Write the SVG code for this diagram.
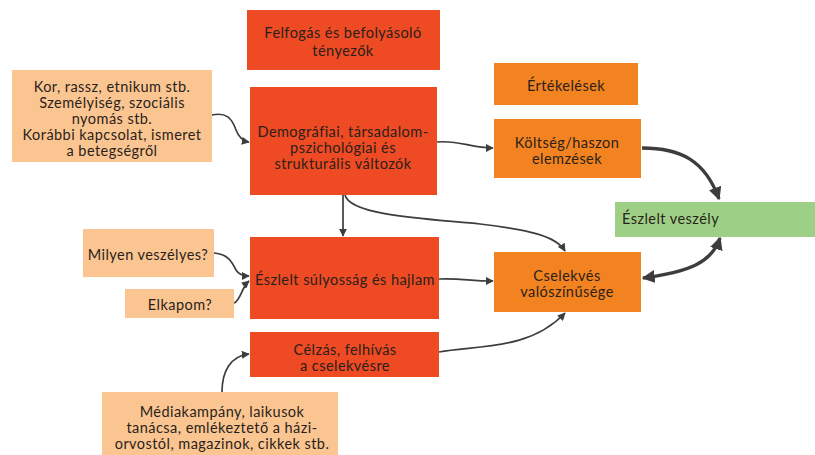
<svg xmlns="http://www.w3.org/2000/svg" width="815" height="455" viewBox="0 0 815 455">
<defs>
<style>
.red{fill:#ee4a23}
.org{fill:#f28320}
.peach{fill:#fbc592}
.grn{fill:#9dd086}
text{font-family:Lato,"Noto Sans",sans-serif;font-size:14.5px;letter-spacing:0.45px;fill:#2a1f1a;text-anchor:middle}
.c{fill:none;stroke:#3d3d3d;stroke-width:1.7}
.t{fill:none;stroke:#3d3d3d;stroke-width:3.4}
</style>
<marker id="a" viewBox="0 0 10 10" refX="9" refY="5" markerWidth="8" markerHeight="8" markerUnits="userSpaceOnUse" orient="auto"><path d="M0,0L10,5L0,10Z" fill="#3d3d3d"/></marker>
<marker id="ab" viewBox="0 0 10 10" refX="9" refY="5" markerWidth="13" markerHeight="13" markerUnits="userSpaceOnUse" orient="auto-start-reverse"><path d="M0,0L10,5L0,10Z" fill="#3d3d3d"/></marker>
</defs>
<rect width="815" height="455" fill="#fff"/>
<g id="connectors">
<path class="c" d="M212,115 C226,112 232,118 236,130 C239,138 243,141 249,142" marker-end="url(#a)"/>
<path class="c" d="M437,142 C460,140 470,148 493,148" marker-end="url(#a)"/>
<path class="c" d="M343,195 L343,236" marker-end="url(#a)"/>
<path class="c" d="M345,195 C350,216 430,219 480,224 C530,230 556,236 565,251" marker-end="url(#a)"/>
<path class="c" d="M439,279 C460,278 470,281 493,281" marker-end="url(#a)"/>
<path class="c" d="M439,352 C480,345 530,350 565,313" marker-end="url(#a)"/>
<path class="c" d="M214,253 C228,254 232,262 236,270 C239,275 244,276 249,276" marker-end="url(#a)"/>
<path class="c" d="M234,303 C241,300 241,288 249,281" marker-end="url(#a)"/>
<path class="c" d="M222,392 C222,372 230,356 249,354" marker-end="url(#a)"/>
<path class="t" d="M642,148 C680,148 705,160 719,199" marker-end="url(#ab)"/>
<path class="t" d="M643,278 C690,272 712,262 720,238" marker-start="url(#ab)" marker-end="url(#ab)"/>
</g>
<g id="felfogas"><rect class="red" x="247" y="10" width="193" height="60"/><text x="343" y="38">Felfogás és befolyásoló</text><text x="343" y="56">tényezők</text></g>
<g id="kor"><rect class="peach" x="12" y="70" width="200" height="92"/><text x="112" y="92">Kor, rassz, etnikum stb.</text><text x="112" y="108">Személyiség, szociális</text><text x="112" y="124">nyomás stb.</text><text x="112" y="140">Korábbi kapcsolat, ismeret</text><text x="112" y="156">a betegségről</text></g>
<g id="demografiai"><rect class="red" x="250" y="87" width="187" height="108"/><text x="343" y="137">Demográfiai, társadalom-</text><text x="343" y="153">pszichológiai és</text><text x="343" y="169">strukturális változók</text></g>
<g id="ertekelesek"><rect class="org" x="494" y="63" width="144" height="42"/><text x="566" y="91">Értékelések</text></g>
<g id="koltseg"><rect class="org" x="494" y="119" width="147" height="59"/><text x="567" y="148">Költség/haszon</text><text x="567" y="164">elemzések</text></g>
<g id="eszlelt-veszely"><rect class="grn" x="615" y="202" width="200" height="35"/><text x="622" y="224" style="text-anchor:start">Észlelt veszély</text></g>
<g id="cselekves"><rect class="org" x="494" y="252" width="147" height="60"/><text x="567" y="281">Cselekvés</text><text x="567" y="297">valószínűsége</text></g>
<g id="milyen"><rect class="peach" x="83" y="229" width="131" height="48"/><text x="148" y="260">Milyen veszélyes?</text></g>
<g id="elkapom"><rect class="peach" x="125" y="289" width="109" height="29"/><text x="180" y="310">Elkapom?</text></g>
<g id="sulyossag"><rect class="red" x="250" y="237" width="189" height="82"/><text x="345" y="285">Észlelt súlyosság és hajlam</text></g>
<g id="celzas"><rect class="red" x="250" y="332" width="189" height="45"/><text x="345" y="355">Célzás, felhívás</text><text x="345" y="371">a cselekvésre</text></g>
<g id="media"><rect class="peach" x="102" y="392" width="236" height="63"/><text x="222" y="417">Médiakampány, laikusok</text><text x="222" y="433">tanácsa, emlékeztető a házi-</text><text x="222" y="449">orvostól, magazinok, cikkek stb.</text></g>
</svg>
